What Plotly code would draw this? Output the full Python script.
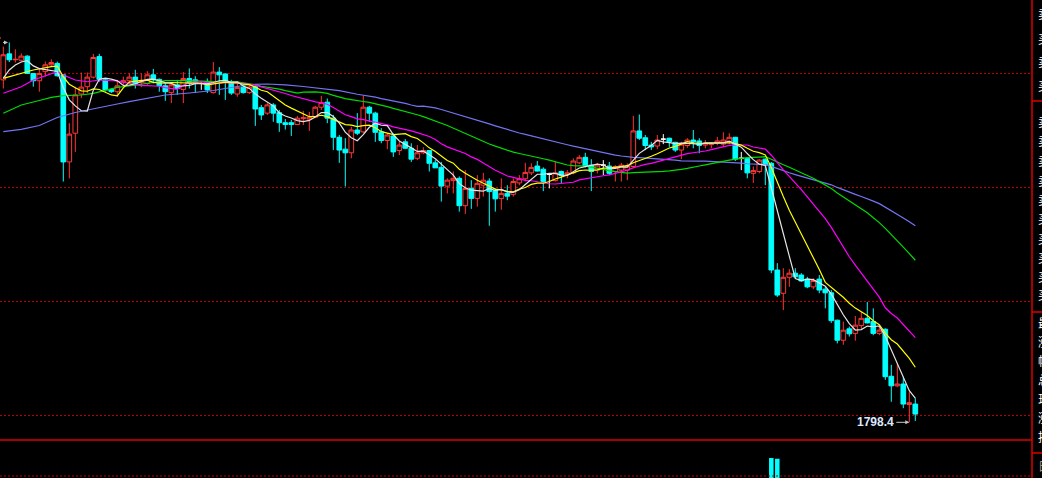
import pandas as pd
import plotly.graph_objects as go

# ---------------- data (prices) ----------------
opens = [1873.5,1879.2,1877.9,1877.8,1878.7,1874.9,1873.3,1875.3,1876.8,1877.1,
 1874.6,1855.5,1861.8,1870.4,1872.0,1874.1,1878.6,1873.5,1871.4,1870.9,
 1873.0,1873.3,1874.1,1872.9,1872.7,1874.6,1873.6,1872.2,1870.7,1872.4,
 1871.4,1873.8,1873.5,1872.7,1873.1,1870.7,1875.2,1874.8,1873.1,1870.4,
 1871.9,1870.7,1872.0,1867.4,1866.2,1868.0,1866.3,1864.1,1864.1,1863.7,
 1865.0,1864.9,1865.3,1867.5,1868.6,1865.1,1860.9,1858.3,1857.5,1862.5,
 1862.1,1867.5,1866.2,1862.1,1860.2,1861.2,1858.0,1859.9,1858.5,1856.3,
 1857.5,1858.0,1855.3,1854.3,1850.2,1851.4,1851.9,1845.9,1849.7,1847.5,
 1850.4,1851.3,1849.3,1847.5,1848.6,1848.4,1850.9,1851.8,1853.1,1854.6,
 1853.9,1852.8,1851.4,1853.4,1852.8,1853.1,1855.3,1856.5,1854.8,1853.7,
 1854.8,1854.6,1853.4,1853.7,1853.7,1854.5,1862.3,1860.8,1859.2,1859.0,
 1860.5,1860.7,1859.8,1858.1,1859.1,1860.3,1860.1,1859.2,1859.3,1859.6,
 1859.4,1859.9,1860.9,1856.3,1856.3,1853.0,1853.4,1856.1,1855.2,1831.8,
 1826.7,1830.2,1831.1,1830.7,1829.8,1828.1,1829.8,1827.6,1826.8,1820.8,
 1816.4,1818.9,1817.9,1819.6,1821.2,1820.5,1817.9,1818.8,1808.5,1806.4,
 1806.8,1802.3,1802.4]
highs = [1880.8,1881.7,1880.2,1879.3,1878.9,1875.0,1876.0,1877.5,1878.0,1877.5,
 1874.7,1864.0,1872.0,1875.1,1875.1,1879.2,1879.2,1873.8,1871.7,1873.5,
 1874.2,1874.9,1875.7,1874.9,1875.4,1875.9,1873.8,1872.7,1872.9,1873.5,
 1875.2,1876.0,1874.3,1873.1,1873.8,1877.4,1876.3,1874.9,1873.5,1872.7,
 1872.7,1872.4,1872.4,1868.0,1868.4,1868.4,1866.9,1864.9,1864.7,1865.6,
 1866.7,1866.5,1867.8,1870.0,1869.4,1865.8,1861.4,1860.7,1863.2,1866.2,
 1870.0,1867.8,1866.5,1862.9,1861.9,1861.8,1859.9,1860.5,1859.6,1859.2,
 1858.7,1858.1,1855.9,1855.5,1851.9,1853.4,1852.3,1853.7,1851.5,1852.6,
 1853.1,1851.9,1849.7,1851.9,1850.4,1851.9,1852.6,1855.3,1855.2,1855.7,
 1854.3,1853.0,1855.5,1853.6,1853.7,1856.3,1857.0,1857.5,1856.1,1855.3,
 1855.9,1855.5,1854.8,1855.3,1855.2,1865.6,1865.9,1861.4,1859.9,1861.4,
 1861.6,1860.8,1859.9,1859.9,1860.7,1862.5,1860.7,1860.3,1859.8,1861.0,
 1862.0,1861.8,1861.0,1857.7,1856.4,1854.5,1856.1,1856.3,1855.5,1833.3,
 1832.2,1832.0,1832.2,1831.1,1830.3,1830.0,1830.7,1828.1,1827.4,1820.9,
 1820.5,1819.4,1821.7,1822.6,1824.8,1823.4,1819.4,1819.0,1811.0,1811.3,
 1808.4,1805.1,1803.7]
lows = [1871.6,1877.4,1877.3,1877.5,1874.8,1872.0,1870.9,1874.2,1876.4,1874.2,
 1851.2,1851.9,1857.7,1869.5,1870.6,1873.8,1873.1,1870.9,1870.6,1869.8,
 1872.4,1872.7,1871.6,1871.9,1872.4,1872.7,1870.9,1868.9,1868.4,1870.2,
 1868.4,1871.6,1870.6,1871.3,1870.6,1870.5,1870.2,1869.1,1870.2,1869.8,
 1870.5,1870.4,1863.4,1864.7,1865.8,1864.3,1862.1,1862.6,1861.2,1863.6,
 1863.6,1862.3,1865.1,1866.9,1864.0,1858.1,1855.3,1850.1,1856.3,1861.4,
 1861.8,1864.3,1859.9,1859.6,1858.3,1856.6,1857.0,1858.3,1855.5,1855.9,
 1857.2,1853.4,1854.2,1846.8,1848.6,1848.6,1844.6,1844.1,1845.2,1845.7,
 1847.9,1841.5,1844.6,1845.0,1847.1,1847.9,1850.4,1851.2,1852.6,1853.4,
 1849.1,1849.7,1851.2,1850.8,1851.9,1852.8,1855.0,1854.3,1849.1,1853.0,
 1852.6,1852.6,1851.2,1851.2,1851.5,1854.1,1860.3,1858.1,1858.1,1858.3,
 1859.4,1858.8,1857.7,1856.1,1858.6,1858.5,1857.4,1858.5,1858.5,1859.2,
 1858.8,1859.4,1855.7,1853.7,1851.9,1850.9,1853.0,1850.4,1831.1,1825.9,
 1823.0,1828.1,1830.0,1829.2,1827.8,1827.6,1826.7,1823.4,1820.2,1815.7,
 1815.4,1817.2,1816.3,1818.9,1820.1,1817.5,1817.5,1807.7,1802.9,1806.1,
 1801.5,1798.4,1798.7]
closes = [1879.0,1877.9,1878.0,1878.7,1874.9,1873.3,1874.9,1876.8,1877.3,1874.4,
 1855.5,1861.6,1870.2,1871.9,1874.1,1878.4,1873.6,1871.3,1870.9,1872.2,
 1873.3,1874.1,1872.7,1873.3,1874.6,1873.5,1872.2,1870.9,1872.4,1871.6,
 1873.8,1872.7,1872.7,1872.7,1871.3,1875.2,1874.6,1873.1,1870.6,1871.8,
 1870.7,1871.9,1867.1,1865.8,1868.0,1866.2,1864.1,1863.7,1863.7,1865.1,
 1865.2,1865.3,1867.5,1868.5,1865.1,1860.9,1858.1,1857.5,1862.5,1861.8,
 1867.5,1866.2,1862.0,1860.2,1861.4,1857.7,1859.2,1858.5,1856.1,1857.5,
 1858.0,1855.2,1854.2,1850.2,1851.5,1851.9,1845.9,1849.7,1847.5,1850.8,
 1851.5,1849.0,1847.4,1848.6,1848.0,1851.2,1851.8,1853.2,1854.3,1853.5,
 1851.2,1852.8,1853.1,1852.5,1853.1,1855.7,1856.5,1854.6,1853.4,1854.8,
 1854.8,1853.0,1854.5,1854.8,1854.6,1862.3,1860.7,1859.1,1858.8,1860.3,
 1860.5,1859.9,1858.1,1859.4,1860.3,1859.9,1859.1,1859.6,1859.4,1860.1,
 1860.3,1860.9,1856.1,1856.3,1853.1,1853.6,1855.9,1854.8,1831.8,1826.3,
 1830.2,1831.1,1830.3,1829.4,1828.1,1829.5,1827.4,1826.8,1820.7,1816.4,
 1818.6,1817.8,1819.7,1821.2,1820.2,1817.9,1818.6,1808.4,1806.4,1806.8,
 1802.4,1802.7,1800.2]

# moving-average values before each window is complete (history lies outside the view)
ma5_head_idx = [0, 1, 2, 3]
ma5_head_val = [1873.90, 1875.66, 1876.76, 1877.41]
ma10_head_idx = [0, 3, 5, 8]
ma10_head_val = [1873.84, 1874.94, 1875.66, 1876.38]
ma20_head_idx = [0, 3, 5, 8, 9, 10, 12, 14, 16]
ma20_head_val = [1870.55, 1872.00, 1873.47, 1874.94, 1875.29, 1874.56, 1873.47, 1873.09, 1873.47]
ma40_head_idx = [0, 3, 6, 8, 10, 13, 15, 17, 19, 21, 24, 27, 31, 35]
ma40_head_val = [1866.16, 1867.98, 1868.97, 1869.67, 1870.02, 1870.18, 1870.55, 1871.27,
                 1871.86, 1872.15, 1872.74, 1873.31, 1873.31, 1873.09]
ma60_head_idx = [0, 3, 6, 9, 12, 16, 19, 21, 24, 27, 31, 35, 38, 41, 44, 47, 50, 53, 56]
ma60_head_val = [1862.13, 1862.65, 1863.49, 1865.24, 1866.34, 1867.48, 1868.20, 1868.71,
                 1869.45, 1870.18, 1870.62, 1871.16, 1871.82, 1872.48, 1872.59, 1872.41,
                 1872.04, 1871.65, 1871.12]

# volume bars that reach into the visible strip of the lower panel
vol_idx = [128, 129]
vol_val = [54000, 52000]

low_label = "1798.4"
high_label = "1881.7"

# right-hand quote panel labels (only their left edges are visible)
panel_top = ["卖价", "买价", "卖量", "买量"]
panel_book = ["卖五", "卖四", "卖三", "卖二", "卖一", "买一", "买二", "买三", "买四", "买五"]
panel_quote = ["最新", "涨跌", "幅度", "总手", "现手", "涨停", "持仓"]
panel_bottom = ["日增"]

# ---------------- figure ----------------
W, H = 1042, 478
PLOT_R = 1032 / W
MAIN_BOTTOM = 1 - 440 / H
VOL_TOP = 37 / H

n = len(closes)
idx = list(range(n))
cs = pd.Series(closes)

def ma_line(period, head_idx, head_val):
    roll = cs.rolling(period).mean()
    xs = list(head_idx) + list(range(period - 1, n))
    ys = list(head_val) + [float(v) for v in roll.iloc[period - 1:]]
    return xs, ys

fig = go.Figure()

UP = "#ff3838"
DOWN = "#00ffff"
DOJI = "#ffffff"

def subset(cond):
    sel = [i for i in idx if cond(opens[i], closes[i])]
    return (sel, [opens[i] for i in sel], [highs[i] for i in sel],
            [lows[i] for i in sel], [closes[i] for i in sel])

for cond, col, fill in [
    (lambda o, c: c > o, UP, "#000000"),
    (lambda o, c: c < o, DOWN, DOWN),
    (lambda o, c: c == o, DOJI, DOJI),
]:
    xs, o, h, l, c = subset(cond)
    fig.add_trace(go.Candlestick(
        x=xs, open=o, high=h, low=l, close=c,
        increasing=dict(line=dict(color=col, width=1), fillcolor=fill),
        decreasing=dict(line=dict(color=col, width=1), fillcolor=fill),
        whiskerwidth=0, showlegend=False, hoverinfo="skip",
        xaxis="x", yaxis="y",
    ))

for period, hi, hv, color in [
    (60, ma60_head_idx, ma60_head_val, "#7474f4"),
    (40, ma40_head_idx, ma40_head_val, "#00dc00"),
    (20, ma20_head_idx, ma20_head_val, "#ff00ff"),
    (10, ma10_head_idx, ma10_head_val, "#ffff00"),
    (5, ma5_head_idx, ma5_head_val, "#e4e4e4"),
]:
    xs, ys = ma_line(period, hi, hv)
    fig.add_trace(go.Scatter(x=xs, y=ys, mode="lines",
                             line=dict(color=color, width=1.2),
                             showlegend=False, hoverinfo="skip",
                             xaxis="x", yaxis="y"))

fig.add_trace(go.Bar(x=vol_idx, y=vol_val, width=0.75, marker=dict(color=DOWN, line=dict(width=0)),
                     showlegend=False, hoverinfo="skip", xaxis="x2", yaxis="y2"))

xr = [-0.55, 171.45]
GRID = "#b80000"
RED = "#e00000"

fig.update_layout(
    width=W, height=H, autosize=False,
    margin=dict(l=0, r=0, t=0, b=0, pad=0),
    paper_bgcolor="#000000", plot_bgcolor="#000000",
    boxgap=0.22, boxgroupgap=0,
    xaxis=dict(domain=[0, PLOT_R], range=xr, showgrid=False, zeroline=False,
               showticklabels=False, ticks="", showline=False,
               rangeslider=dict(visible=False), anchor="y"),
    yaxis=dict(domain=[MAIN_BOTTOM, 1], range=[1794.52, 1891.01],
               tickvals=[1800, 1825, 1850, 1875], showgrid=True, gridcolor=GRID,
               griddash="2px,2px", gridwidth=1, zeroline=False, showticklabels=False,
               ticks="", showline=False, anchor="x"),
    xaxis2=dict(domain=[0, PLOT_R], range=xr, showgrid=False, zeroline=False,
                showticklabels=False, ticks="", showline=False, anchor="y2"),
    yaxis2=dict(domain=[0, VOL_TOP], range=[0, 100000], showgrid=False, zeroline=False,
                showticklabels=False, ticks="", showline=False, anchor="x2"),
    font=dict(family="Liberation Sans, Arial, sans-serif"),
)

shapes = [
    dict(type="line", xref="paper", yref="paper", x0=PLOT_R, x1=PLOT_R, y0=0, y1=1,
         line=dict(color=RED, width=1.5)),
    dict(type="line", xref="paper", yref="paper", x0=0, x1=PLOT_R,
         y0=MAIN_BOTTOM, y1=MAIN_BOTTOM, line=dict(color=RED, width=1.5)),
    dict(type="line", xref="paper", yref="paper", x0=0, x1=PLOT_R,
         y0=2 / H, y1=2 / H, line=dict(color=GRID, width=1, dash="2px,2px")),
]
for ypx in [101, 312, 453]:
    shapes.append(dict(type="line", xref="paper", yref="paper", x0=PLOT_R, x1=1,
                       y0=1 - ypx / H, y1=1 - ypx / H, line=dict(color=RED, width=1.5)))
fig.update_layout(shapes=shapes)

ann = [
    dict(x=151.0, y=1798.4, xref="x", yref="y", text="<b>" + low_label + "</b>",
         showarrow=True, ax=-13, ay=0, axref="pixel", ayref="pixel",
         arrowhead=2, arrowsize=0.8, arrowwidth=1, arrowcolor="#c8c8c8",
         xanchor="right", yanchor="middle", standoff=0, startstandoff=0,
         font=dict(size=12, color="#dde8ff", family="Liberation Sans, Arial")),
    dict(x=0.78, y=1881.7, xref="x", yref="y", text="<b>" + high_label + "</b>",
         showarrow=True, ax=-12, ay=0, arrowhead=2, arrowsize=0.8, arrowwidth=1,
         arrowcolor="#c8c8c8", xanchor="right", yanchor="middle",
         font=dict(size=12, color="#dde8ff", family="Liberation Sans, Arial")),
]

def panel(labels, ys, color="#ffffff"):
    for t, ypx in zip(labels, ys):
        ann.append(dict(x=1036 / W, y=1 - ypx / H, xref="paper", yref="paper",
                        text=t, showarrow=False, xanchor="left", yanchor="middle",
                        font=dict(size=12, color=color, family="Noto Sans CJK SC")))

panel(panel_top, [13, 38, 62, 85])
panel(panel_book, [122, 141, 160, 180, 199, 218, 238, 257, 276, 294])
panel(panel_quote, [322, 341, 360, 379, 398, 417, 436])
panel(panel_bottom, [465], color="#9a9a9a")

fig.update_layout(annotations=ann)

fig.write_html("out.html", config={"displayModeBar": False},
               post_script="document.body.style.margin='0';document.body.style.overflow='hidden';"
                           "document.body.style.background='#000';")
